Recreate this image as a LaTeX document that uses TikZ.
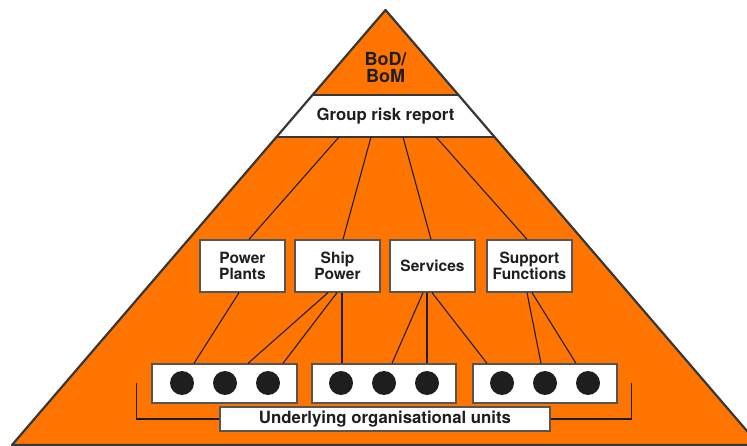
\documentclass[tikz,border=0pt]{standalone}
\usepackage{fontspec}
\setmainfont{TeX Gyre Heros}
\usetikzlibrary{calc}
\definecolor{pyr}{RGB}{255,117,0}
\definecolor{edge}{RGB}{55,55,55}
\definecolor{boxedge}{RGB}{85,85,85}
\definecolor{ink}{RGB}{30,30,30}
\tikzset{
  unitbox/.style={draw=boxedge,line width=1.3pt,fill=white,inner sep=0pt,text=ink,align=center,font=\fontsize{15.5}{16}\selectfont\bfseries},
  link/.style={draw=ink,line width=1.1pt},
  dot/.style={circle,fill=ink,inner sep=0pt,minimum size=24pt},
}
\begin{document}
\begin{tikzpicture}[x=1pt,y=-1pt]
\useasboundingbox (0,0) rectangle (747,446);
\begin{scope}
\clip (0,0) rectangle (747,446);
% pyramid
\fill[pyr] (385.5,10) -- (12,445) -- (759,445) -- cycle;
% band
\fill[white] (312.5,95) -- (458.5,95) -- (494.5,137) -- (276.5,137) -- cycle;
\draw[edge,line width=2pt] (312.5,95) -- (458.5,95);
\draw[edge,line width=2pt] (276.5,137) -- (494.5,137);
\draw[edge,line width=2.2pt,line join=round] (385.5,10) -- (12,445) -- (759,445) -- cycle;
\end{scope}
\node[text=ink,align=center,font=\fontsize{18}{16.5}\selectfont\bfseries] (bod) at (385.5,67.5) {BoD/\\BoM};
\node[text=ink,font=\fontsize{16.7}{16}\selectfont\bfseries] (grr) at (385.5,116) {Group risk report};
\coordinate (grb) at (385.5,137);
% level 2
\node[unitbox,minimum width=85pt,minimum height=52pt] (pp) at (242.5,266) {Power\\Plants};
\node[unitbox,minimum width=85pt,minimum height=52pt] (sp) at (337.5,266) {Ship\\Power};
\node[unitbox,minimum width=85pt,minimum height=52pt] (sv) at (432.5,266) {Services};
\node[unitbox,minimum width=85pt,minimum height=52pt] (sf) at (529.5,266) {Support\\Functions};
% bottom boxes
\node[unitbox,minimum width=145pt,minimum height=39pt] (b1) at (224.5,383.5) {};
\node[unitbox,minimum width=144pt,minimum height=39pt] (b2) at (384,383.5) {};
\node[unitbox,minimum width=144pt,minimum height=39pt] (b3) at (545,383.5) {};
\node[dot] (d11) at (182,383) {};
\node[dot] (d12) at (225,383) {};
\node[dot] (d13) at (268,383) {};
\node[dot] (d21) at (341,383) {};
\node[dot] (d22) at (384,383) {};
\node[dot] (d23) at (427,383) {};
\node[dot] (d31) at (502,383) {};
\node[dot] (d32) at (545,383) {};
\node[dot] (d33) at (588,383) {};
% label
\node[unitbox,minimum width=330pt,minimum height=24pt,font=\fontsize{16.8}{16}\selectfont\bfseries] (ul) at (385,419) {Underlying organisational units};
% top connectors
\draw[link] ([xshift=-46.5pt]grb) -- ([xshift=6.5pt]pp.north);
\draw[link] ([xshift=-14.5pt]grb) -- ([xshift=5.5pt]sp.north);
\draw[link] ([xshift=17.5pt]grb) -- ([xshift=-1.5pt]sv.north);
\draw[link] ([xshift=50.5pt]grb) -- ([xshift=-2.5pt]sf.north);
% lower connectors
\draw[link] ([xshift=-3.5pt]pp.south) -- ([xshift=-30.5pt]b1.north);
\draw[link] ([xshift=-9.5pt]sp.south) -- ([xshift=23.5pt]b1.north);
\draw[link] ([xshift=-0.5pt]sp.south) -- ([xshift=58.5pt]b1.north);
\draw[link] ([xshift=4.5pt]sp.south) -- ([xshift=-42pt]b2.north);
\draw[link] ([xshift=-9.5pt]sv.south) -- ([xshift=8pt]b2.north);
\draw[link] ([xshift=-5.5pt]sv.south) -- ([xshift=43pt]b2.north);
\draw[link] ([xshift=-0.5pt]sv.south) -- ([xshift=-58pt]b3.north);
\draw[link] ([xshift=-2.5pt]sf.south) -- ([xshift=-4pt]b3.north);
\draw[link] ([xshift=2.5pt]sf.south) -- ([xshift=31pt]b3.north);
% bracket
\draw[link] (ul.west) -- ++(-83,0) -- ++(0,-36);
\draw[link] (ul.east) -- ++(81,0) -- ++(0,-36);
\end{tikzpicture}
\end{document}
